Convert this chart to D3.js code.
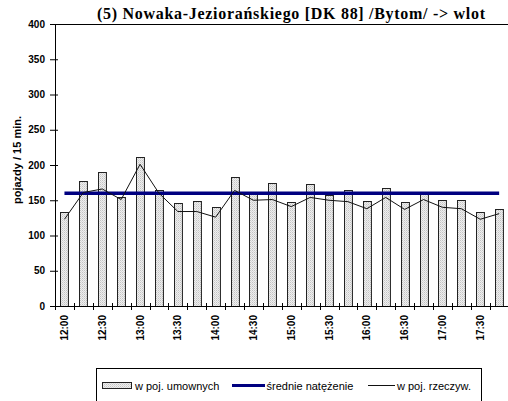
<!DOCTYPE html>
<html>
<head>
<meta charset="utf-8">
<script src="https://cdn.jsdelivr.net/npm/d3@7"></script>
<style>
body { margin: 0; background: #fff; }
svg { display: block; }
</style>
</head>
<body>
<svg width="508" height="401"></svg>
<script>
var times = ["12:00","12:15","12:30","12:45","13:00","13:15","13:30","13:45",
             "14:00","14:15","14:30","14:45","15:00","15:15","15:30","15:45",
             "16:00","16:15","16:30","16:45","17:00","17:15","17:30","17:45"];
// w poj. umownych
var umowne = [133,178,190,155,211,164,146,149,140,183,162,175,
              148,173,157,165,149,168,148,162,150,151,133,138];
// w poj. rzeczyw.
var rzeczyw = [123,161,166,151,201,160,134,134,126,164,150,151,
               141,154,150,148,138,154,137,151,140,138,123,131];
var srednie = 160;
var yTicks = [0,50,100,150,200,250,300,350,400];

var svg = d3.select("svg");
var plotLeft = 55, plotRight = 508.6, plotTop = 24, plotBottom = 306;

var x = d3.scaleBand().domain(times).range([plotLeft, plotRight]).padding(0);
var y = d3.scaleLinear().domain([0, 400]).range([plotBottom, plotTop]);
var bw = x.bandwidth();
var cx = function(d) { return x(d) + bw / 2; };

// pattern fill for bars
var defs = svg.append("defs");
var pat = defs.append("pattern").attr("id", "dots")
    .attr("width", 2).attr("height", 2).attr("patternUnits", "userSpaceOnUse");
pat.append("rect").attr("width", 2).attr("height", 2).attr("fill", "#eeeeee");
pat.append("rect").attr("width", 1).attr("height", 1).attr("fill", "#c4c4c4");
pat.append("rect").attr("x", 1).attr("y", 1).attr("width", 1).attr("height", 1).attr("fill", "#d8d8d8");

// title
svg.append("text")
    .attr("x", 97).attr("y", 19)
    .attr("textLength", 388).attr("lengthAdjust", "spacing")
    .style("font-family", "'Liberation Serif', 'Times New Roman', serif")
    .style("font-weight", "bold").style("font-size", "16px")
    .text("(5) Nowaka-Jeziorańskiego [DK 88] /Bytom/ -> wlot");

// plot top border
svg.append("line").attr("x1", plotLeft).attr("x2", 508).attr("y1", plotTop + 0.5).attr("y2", plotTop + 0.5)
    .attr("stroke", "#000").attr("stroke-width", 1);

// bars
var barW = bw * 0.42;
svg.selectAll(".bar").data(umowne).enter().append("rect")
    .attr("class", "bar")
    .attr("x", function(d, i) { return Math.round(cx(times[i]) - barW / 2) + 0.5; })
    .attr("y", function(d) { return Math.round(y(d)) + 0.5; })
    .attr("width", barW)
    .attr("height", function(d) { return plotBottom - Math.round(y(d)); })
    .attr("fill", "url(#dots)")
    .attr("stroke", "#222").attr("stroke-width", 1);

// mean line
svg.append("line")
    .attr("x1", cx(times[0])).attr("x2", cx(times[times.length - 1]))
    .attr("y1", y(srednie)).attr("y2", y(srednie))
    .attr("stroke", "#000080").attr("stroke-width", 3.5);

// real vehicles line
var line = d3.line()
    .x(function(d, i) { return cx(times[i]); })
    .y(function(d) { return y(d); });
svg.append("path").datum(rzeczyw)
    .attr("d", line)
    .attr("fill", "none").attr("stroke", "#111").attr("stroke-width", 1);

// y axis
var yAxis = svg.append("g").attr("transform", "translate(" + plotLeft + ",0)")
    .call(d3.axisLeft(y).tickValues(yTicks).tickSize(5).tickSizeOuter(0).tickPadding(5));
yAxis.select(".domain").attr("stroke", "#000");
yAxis.selectAll(".tick line").attr("x1", 3).attr("x2", -5);
yAxis.selectAll("text")
    .style("font-family", "'Liberation Sans', Arial, sans-serif")
    .style("font-weight", "bold").style("font-size", "10px").attr("fill", "#000");

// x axis line and ticks at category boundaries
svg.append("line").attr("x1", plotLeft).attr("x2", 508).attr("y1", plotBottom + 0.5).attr("y2", plotBottom + 0.5)
    .attr("stroke", "#000");
svg.selectAll(".xtick").data(times).enter().append("line")
    .attr("class", "xtick")
    .attr("x1", function(d) { return Math.round(x(d)) + 0.5; })
    .attr("x2", function(d) { return Math.round(x(d)) + 0.5; })
    .attr("y1", plotBottom - 3).attr("y2", plotBottom + 4)
    .attr("stroke", "#000");

// x labels, every second category
svg.selectAll(".xlab").data(times.filter(function(d, i) { return i % 2 === 0; }))
    .enter().append("text")
    .attr("class", "xlab")
    .attr("transform", function(d) { return "translate(" + cx(d) + "," + 315 + ") rotate(-90)"; })
    .attr("dy", "0.35em")
    .attr("text-anchor", "end")
    .style("font-family", "'Liberation Sans', Arial, sans-serif")
    .style("font-weight", "bold").style("font-size", "10px")
    .text(function(d) { return d; });

// y axis title
svg.append("text")
    .attr("transform", "translate(21,160) rotate(-90)")
    .attr("text-anchor", "middle")
    .style("font-family", "'Liberation Sans', Arial, sans-serif")
    .style("font-weight", "bold").style("font-size", "11px")
    .text("pojazdy / 15 min.");

// legend
var lg = svg.append("g");
lg.append("rect").attr("x", 96.5).attr("y", 368.5).attr("width", 385).attr("height", 40)
    .attr("fill", "#fff").attr("stroke", "#000");
lg.append("rect").attr("x", 102.5).attr("y", 382.5).attr("width", 29).attr("height", 6)
    .attr("fill", "url(#dots)").attr("stroke", "#222");
lg.append("line").attr("x1", 232).attr("x2", 265).attr("y1", 385.5).attr("y2", 385.5)
    .attr("stroke", "#000080").attr("stroke-width", 3);
lg.append("line").attr("x1", 368).attr("x2", 395).attr("y1", 385.5).attr("y2", 385.5)
    .attr("stroke", "#111").attr("stroke-width", 1);
var legText = [["w poj. umownych", 135], ["średnie natężenie", 266.5], ["w poj. rzeczyw.", 397]];
lg.selectAll(".lt").data(legText).enter().append("text")
    .attr("x", function(d) { return d[1]; }).attr("y", 389.5)
    .style("font-family", "'Liberation Sans', Arial, sans-serif")
    .style("font-size", "11px")
    .text(function(d) { return d[0]; });
</script>
</body>
</html>
